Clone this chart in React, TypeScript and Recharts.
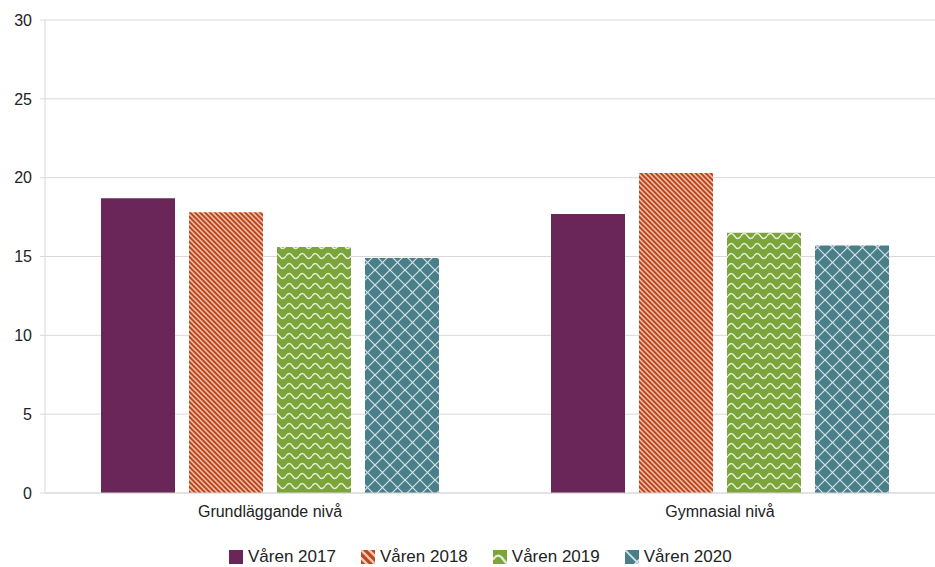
import { BarChart, Bar, XAxis, YAxis, CartesianGrid } from 'recharts'

// values (percent)
const categories = ['Grundläggande nivå', 'Gymnasial nivå']
const varen2017 = [18.7, 17.7]
const varen2018 = [17.8, 20.3]
const varen2019 = [15.6, 16.5]
const varen2020 = [14.9, 15.7]
const yTicks = [0, 5, 10, 15, 20, 25, 30]

const series = [
  { key: 'v2017', label: 'Våren 2017', values: varen2017, color: '#6A2658', fill: '#6A2658' },
  { key: 'v2018', label: 'Våren 2018', values: varen2018, color: '#C0461E', fill: 'url(#p2018)' },
  { key: 'v2019', label: 'Våren 2019', values: varen2019, color: '#7BA43A', fill: 'url(#p2019)' },
  { key: 'v2020', label: 'Våren 2020', values: varen2020, color: '#4A7F8A', fill: 'url(#p2020)' },
]

const data = categories.map((name, i) => {
  const row: Record<string, string | number> = { name }
  series.forEach((s) => (row[s.key] = s.values[i]))
  return row
})

const GRID = '#d9d9d9'
const FONT = '"Liberation Sans", Arial, sans-serif'

function Patterns({ prefix = '', scale = 1 }: { prefix?: string; scale?: number }) {
  return (
    <defs>
      <pattern id={`${prefix}p2018`} patternUnits="userSpaceOnUse" width={5 * scale} height={5 * scale}>
        <rect width={5 * scale} height={5 * scale} fill="#C0461E" />
        <g stroke="#f1c8b3" strokeWidth={1.5 * scale}>
          <line x1={0} y1={0} x2={5 * scale} y2={5 * scale} />
          <line x1={-scale} y1={4 * scale} x2={scale} y2={6 * scale} />
          <line x1={4 * scale} y1={-scale} x2={6 * scale} y2={scale} />
        </g>
      </pattern>
      <pattern id={`${prefix}p2019`} patternUnits="userSpaceOnUse" width={13 * scale} height={10 * scale}>
        <rect width={13 * scale} height={10 * scale} fill="#7BA43A" />
        <path
          d={`M0 ${6 * scale} Q${3.25 * scale} ${1 * scale} ${6.5 * scale} ${6 * scale} T${13 * scale} ${6 * scale}`}
          fill="none"
          stroke="#e4efd3"
          strokeWidth={1.4 * scale}
        />
      </pattern>
      <pattern id={`${prefix}p2020`} patternUnits="userSpaceOnUse" width={15 * scale} height={15 * scale}>
        <rect width={15 * scale} height={15 * scale} fill="#4A7F8A" />
        <g stroke="#d3e3e6" strokeWidth={1.2 * scale}>
          <line x1={0} y1={0} x2={15 * scale} y2={15 * scale} />
          <line x1={15 * scale} y1={0} x2={0} y2={15 * scale} />
        </g>
      </pattern>
    </defs>
  )
}

function LegendRow() {
  return (
    <div
      style={{
        position: 'absolute',
        top: 547,
        left: 229,
        display: 'flex',
        alignItems: 'center',
        gap: 25,
        fontFamily: FONT,
        fontSize: 17,
        color: '#222',
        whiteSpace: 'nowrap',
      }}
    >
      {series.map((s) => (
        <div key={s.key} style={{ display: 'flex', alignItems: 'center' }}>
          <svg width={14} height={14} style={{ marginRight: 5 }}>
            <Patterns prefix={`lg-${s.key}-`} scale={1.6} />
            <rect
              width={14}
              height={14}
              fill={s.key === 'v2017' ? s.fill : `url(#lg-${s.key}-${s.fill.slice(5, -1)})`}
            />
          </svg>
          <span>{s.label}</span>
        </div>
      ))}
    </div>
  )
}

export default function App() {
  return (
    <div style={{ position: 'absolute', left: 0, top: 0, width: 935, height: 567, overflow: 'hidden', background: '#fff' }}>
      <BarChart
        width={945}
        height={567}
        data={data}
        margin={{ top: 20, right: 0, left: 0, bottom: 44 }}
        barSize={74}
        barGap={14}
        style={{ fontFamily: FONT }}
      >
        <Patterns />
        <CartesianGrid horizontal vertical={false} stroke={GRID} />
        <XAxis
          dataKey="name"
          axisLine={{ stroke: GRID }}
          tickLine={false}
          tickMargin={7}
          height={30}
          tick={{ fontSize: 16, fill: '#222' }}
        />
        <YAxis
          domain={[0, 30]}
          ticks={yTicks}
          width={45}
          axisLine={{ stroke: GRID }}
          tickLine={{ stroke: GRID }}
          tickSize={5}
          tickMargin={8}
          tick={{ fontSize: 16, fill: '#222' }}
        />
        {series.map((s) => (
          <Bar key={s.key} dataKey={s.key} name={s.label} fill={s.fill} isAnimationActive={false} />
        ))}
      </BarChart>
      <LegendRow />
    </div>
  )
}
